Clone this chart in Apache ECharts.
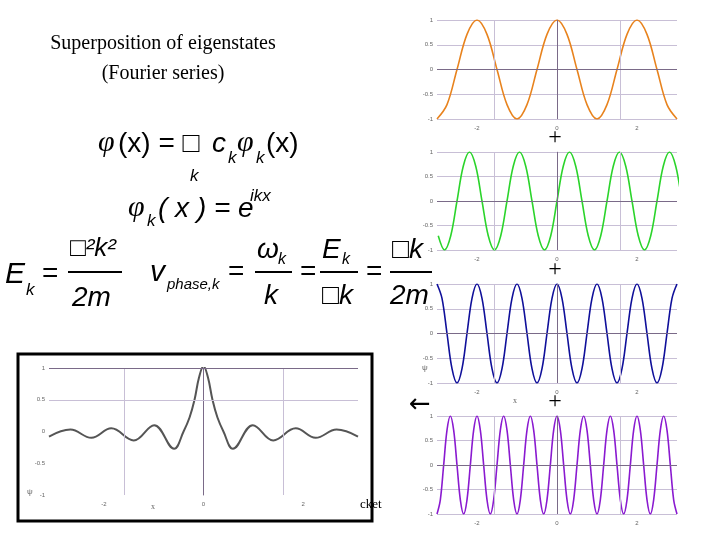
<!DOCTYPE html>
<html>
<head>
<meta charset="utf-8">
<script src="https://cdn.jsdelivr.net/npm/echarts@6/dist/echarts.min.js"></script>
<style>html,body{margin:0;background:#fff}#chartContainer{width:720px;height:540px}</style>
</head>
<body>
<div id="chartContainer"></div>
<script>
// 读图得到的数值:等间距采样的 ψ 值
const orangeStart = -3, orangeStep = 0.25;
const orangeWave = [-1,-0.71,0,0.71,1,0.71,0,-0.71,-1,-0.71,0,0.71,1,0.71,0,-0.71,-1,-0.71,0,0.71,1,0.71,0,-0.71,-1];
const greenStart = -2.96875, greenStep = 0.15625;
const greenWave = [-0.71,-1,-0.71,0,0.71,1,0.71,0,-0.71,-1,-0.71,0,0.71,1,0.71,0,-0.71,-1,-0.71,0,0.71,1,0.71,0,-0.71,-1,-0.71,0,0.71,1,0.71,0,-0.71,-1,-0.71,0,0.71,1,0.71,0,-0.71];
const blueStart = -3, blueStep = 0.125;
const blueWave = [1,0.71,0,-0.71,-1,-0.71,0,0.71,1,0.71,0,-0.71,-1,-0.71,0,0.71,1,0.71,0,-0.71,-1,-0.71,0,0.71,1,0.71,0,-0.71,-1,-0.71,0,0.71,1,0.71,0,-0.71,-1,-0.71,0,0.71,1,0.71,0,-0.71,-1,-0.71,0,0.71,1];
const purpleStart = -3, purpleStep = 1 / 12;
const purpleWave = [-1,-0.71,0,0.71,1,0.71,0,-0.71,-1,-0.71,0,0.71,1,0.71,0,-0.71,-1,-0.71,0,0.71,1,0.71,0,-0.71,-1,-0.71,0,0.71,1,0.71,0,-0.71,-1,-0.71,0,0.71,1,0.71,0,-0.71,-1,-0.71,0,0.71,1,0.71,0,-0.71,-1,-0.71,0,0.71,1,0.71,0,-0.71,-1,-0.71,0,0.71,1,0.71,0,-0.71,-1,-0.71,0,0.71,1,0.71,0,-0.71,-1];
// 波包 [x, ψ]
const packetWave = [[-3.1,-0.08],[-2.67,0.03],[-2.25,-0.1],[-1.85,0.05],[-1.4,-0.14],[-0.99,0.1],[-0.59,-0.27],[-0.4,0],[-0.28,0.22],[-0.18,0.5],[-0.09,0.85],[0,1.03],[0.09,0.85],[0.18,0.5],[0.28,0.22],[0.4,0],[0.59,-0.27],[0.99,0.1],[1.4,-0.14],[1.85,0.05],[2.25,-0.1],[2.67,0.03],[3.1,-0.08]];
const xTicks = [-2, 0, 2];

const myChart = echarts.init(document.getElementById("chartContainer"));

const gridLine = "#c8bfd6";
const axisDark = "#7a6a88";

function toPairs(start, step, ys) {
  return ys.map((y, i) => [start + i * step, y]);
}

function makeAxes(idx, xMin, xMax) {
  return {
    x: {
      type: "value", gridIndex: idx, min: xMin, max: xMax,
      splitLine: { show: false },
      axisLine: { show: false },
      axisTick: { show: false },
      axisLabel: { fontSize: 6, color: "#666", margin: 6, customValues: xTicks }
    },
    y: {
      type: "value", gridIndex: idx, min: -1, max: 1, interval: 0.5,
      splitLine: { lineStyle: { color: gridLine, width: 1 } },
      axisLine: { show: true, lineStyle: { color: gridLine } },
      axisTick: { show: false },
      axisLabel: { fontSize: 6, color: "#666", margin: 4 }
    }
  };
}

const waves = [
  { data: toPairs(orangeStart, orangeStep, orangeWave), color: "#e8831e", top: 20, height: 99 },
  { data: toPairs(greenStart, greenStep, greenWave), color: "#2bd42b", top: 152, height: 98 },
  { data: toPairs(blueStart, blueStep, blueWave), color: "#10109a", top: 284, height: 99 },
  { data: toPairs(purpleStart, purpleStep, purpleWave), color: "#8a1ad0", top: 416, height: 98 }
];

const grids = [], xAxes = [], yAxes = [], series = [];

function vLines(xs) {
  return {
    silent: true, symbol: "none", label: { show: false },
    lineStyle: { color: gridLine, type: "solid", width: 1 },
    data: xs.map((x) => ({ xAxis: x, lineStyle: { color: x === 0 ? axisDark : gridLine } }))
      .concat([{ yAxis: 0, lineStyle: { color: axisDark } }])
  };
}

waves.forEach((w, i) => {
  grids.push({ left: 437, width: 240, top: w.top, height: w.height });
  const a = makeAxes(i, -3, 3);
  xAxes.push(a.x);
  yAxes.push(a.y);
  series.push({
    type: "line", xAxisIndex: i, yAxisIndex: i, data: w.data,
    smooth: 0.35, showSymbol: false, lineStyle: { color: w.color, width: 1.6 },
    markLine: vLines([-1.57, 0, 1.57])
  });
});

// 下方波包
grids.push({ left: 49, width: 309, top: 368, height: 127 });
const pa = makeAxes(4, -3.1, 3.1);
pa.y.axisLine.lineStyle.color = axisDark;
pa.y.splitLine.show = false;
xAxes.push(pa.x);
yAxes.push(pa.y);
series.push({
  type: "line", xAxisIndex: 4, yAxisIndex: 4, data: packetWave,
  smooth: 0.4, showSymbol: false, lineStyle: { color: "#555", width: 2 },
  markLine: {
    silent: true, symbol: "none", label: { show: false },
    lineStyle: { color: gridLine, type: "solid", width: 1 },
    data: [{ xAxis: -1.6 }, { xAxis: 1.6 }, { xAxis: 0, lineStyle: { color: axisDark } },
      { yAxis: 1, lineStyle: { color: axisDark } }, { yAxis: 0.5 }]
  }
});

const serif = "Liberation Serif";
const sans = "Liberation Sans";
function txt(x, y, text, size, opt) {
  return {
    type: "text", x: x, y: y,
    style: Object.assign({ text: text, fontSize: size, fontFamily: sans, fill: "#000" }, opt || {})
  };
}
function bar(x1, x2, y) {
  return { type: "line", shape: { x1: x1, y1: y, x2: x2, y2: y }, style: { stroke: "#000", lineWidth: 2 } };
}

const graphics = [
  txt(163, 44, "Superposition of eigenstates", 20, { fontFamily: serif, align: "center", verticalAlign: "middle" }),
  txt(163, 74, "(Fourier series)", 20, { fontFamily: serif, align: "center", verticalAlign: "middle" }),
  // φ(x) = □ c_k φ_k(x)
  txt(98, 128, "φ", 30, { fontFamily: serif, fontStyle: "italic" }),
  txt(118, 130, "(x) = □", 28, {}),
  txt(212, 130, "c", 28, { fontStyle: "italic" }),
  txt(228, 150, "k", 17, { fontStyle: "italic" }),
  txt(237, 128, "φ", 30, { fontFamily: serif, fontStyle: "italic" }),
  txt(256, 150, "k", 17, { fontStyle: "italic" }),
  txt(266, 130, "(x)", 28, {}),
  txt(190, 168, "k", 17, { fontStyle: "italic" }),
  // φ_k(x) = e^{ikx}
  txt(128, 193, "φ", 30, { fontFamily: serif, fontStyle: "italic" }),
  txt(147, 213, "k", 17, { fontStyle: "italic" }),
  txt(158, 195, "( x ) = e", 28, { fontStyle: "italic" }),
  txt(250, 188, "ikx", 17, { fontStyle: "italic" }),
  // E_k = ℏ²k²/2m
  txt(5, 260, "E", 30, { fontStyle: "italic" }),
  txt(26, 282, "k", 17, { fontStyle: "italic" }),
  txt(42, 260, "=", 28, {}),
  txt(70, 236, "□²k²", 26, { fontStyle: "italic" }),
  bar(68, 122, 272),
  txt(72, 284, "2m", 28, { fontStyle: "italic" }),
  // v_phase,k
  txt(150, 258, "v", 30, { fontStyle: "italic" }),
  txt(167, 277, "phase,k", 15, { fontStyle: "italic" }),
  txt(228, 258, "=", 28, {}),
  txt(257, 236, "ω", 28, { fontStyle: "italic" }),
  txt(278, 252, "k", 16, { fontStyle: "italic" }),
  bar(255, 292, 272),
  txt(264, 282, "k", 28, { fontStyle: "italic" }),
  txt(300, 258, "=", 28, {}),
  txt(322, 236, "E", 28, { fontStyle: "italic" }),
  txt(342, 252, "k", 16, { fontStyle: "italic" }),
  bar(320, 358, 272),
  txt(322, 282, "□k", 28, { fontStyle: "italic" }),
  txt(366, 258, "=", 28, {}),
  txt(392, 236, "□k", 28, { fontStyle: "italic" }),
  bar(390, 432, 272),
  txt(390, 282, "2m", 28, { fontStyle: "italic" }),
  // 加号与箭头
  txt(555, 138, "+", 24, { fontFamily: serif, align: "center", verticalAlign: "middle" }),
  txt(555, 270, "+", 24, { fontFamily: serif, align: "center", verticalAlign: "middle" }),
  txt(555, 402, "+", 24, { fontFamily: serif, align: "center", verticalAlign: "middle" }),
  txt(420, 405, "←", 26, { fontFamily: "DejaVu Sans", align: "center", verticalAlign: "middle" }),
  txt(360, 505, "cket", 13, { fontFamily: serif, verticalAlign: "middle" }),
  txt(27, 488, "ψ", 8, { fill: "#666" }),
  txt(151, 503, "x", 8, { fill: "#666", fontFamily: serif }),
  txt(513, 397, "x", 8, { fill: "#666", fontFamily: serif }),
  txt(422, 364, "ψ", 8, { fill: "#666" }),
  { type: "rect", shape: { x: 18, y: 354, width: 354, height: 167 }, style: { fill: "none", stroke: "#000", lineWidth: 3 } }
];

myChart.setOption({
  animation: false,
  backgroundColor: "#fff",
  grid: grids,
  xAxis: xAxes,
  yAxis: yAxes,
  series: series,
  graphic: graphics
});
</script>
</body>
</html>
